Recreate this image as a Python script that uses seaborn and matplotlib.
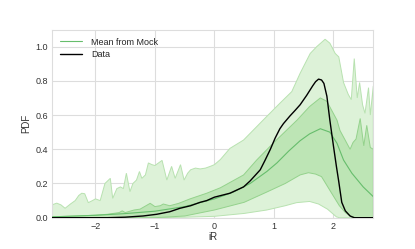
import numpy as np
import matplotlib
matplotlib.use("Agg")
import matplotlib.pyplot as plt
import seaborn as sns

# outer (light) band of the mocks
x_outer_up = [-2.73, -2.65, -2.58, -2.51, -2.42, -2.34, -2.28, -2.23, -2.18, -2.12,
              -2.05, -2.0, -1.92, -1.84, -1.75, -1.71, -1.64, -1.58, -1.53, -1.48,
              -1.42, -1.37, -1.31, -1.26, -1.22, -1.16, -1.11, -1.05, -1.0, -0.94,
              -0.88, -0.80, -0.72, -0.66, -0.57, -0.51, -0.45, -0.40, -0.32, -0.24,
              -0.15, -0.07, 0.0, 0.10, 0.26, 0.49, 0.82, 1.10, 1.30, 1.44,
              1.61, 1.72, 1.86, 1.94, 2.03, 2.09, 2.17, 2.25, 2.30, 2.35,
              2.40, 2.44, 2.49, 2.53, 2.59, 2.62, 2.67]
y_outer_up = [0.075, 0.085, 0.075, 0.055, 0.08, 0.10, 0.13, 0.143, 0.14, 0.088,
              0.10, 0.11, 0.10, 0.20, 0.23, 0.113, 0.17, 0.18, 0.17, 0.26,
              0.152, 0.20, 0.22, 0.27, 0.23, 0.25, 0.32, 0.31, 0.305, 0.32,
              0.335, 0.22, 0.30, 0.23, 0.31, 0.22, 0.26, 0.28, 0.29, 0.285,
              0.29, 0.30, 0.31, 0.34, 0.405, 0.454, 0.571, 0.669, 0.737, 0.844,
              0.96, 1.0, 1.043, 1.02, 0.96, 0.94, 0.79, 0.72, 0.69, 0.93,
              0.70, 0.79, 0.66, 0.61, 0.76, 0.60, 0.77]
x_outer_lo = [-2.73, -1.0, -0.5, 0.0, 0.5, 0.88, 1.19, 1.38, 1.6, 1.75, 1.9, 2.05, 2.1, 2.67]
y_outer_lo = [0.0, 0.0, 0.003, 0.008, 0.025, 0.045, 0.07, 0.088, 0.095, 0.08, 0.05, 0.005, 0.0, 0.0]

# inner (medium) band of the mocks
x_inner_up = [-2.73, -2.3, -2.0, -1.8, -1.6, -1.55, -1.5, -1.35, -1.25, -1.15,
              -1.08, -1.0, -0.91, -0.86, -0.75, -0.6, -0.41, -0.13, 0.1, 0.49,
              0.71, 1.0, 1.39, 1.6, 1.78, 1.89, 2.06, 2.11, 2.28, 2.33,
              2.38, 2.45, 2.51, 2.56, 2.62, 2.67]
y_inner_up = [0.005, 0.01, 0.015, 0.02, 0.03, 0.04, 0.03, 0.045, 0.05, 0.07,
              0.084, 0.065, 0.07, 0.08, 0.07, 0.084, 0.11, 0.143, 0.175, 0.25,
              0.337, 0.44, 0.571, 0.65, 0.70, 0.68, 0.57, 0.51, 0.40, 0.44,
              0.46, 0.58, 0.42, 0.54, 0.41, 0.40]
x_inner_lo = [-2.73, -1.0, -0.5, 0.0, 0.5, 0.88, 1.19, 1.44, 1.58, 1.7, 1.8, 1.97, 2.1, 2.2, 2.3, 2.4, 2.67]
y_inner_lo = [0.0, 0.0, 0.01, 0.045, 0.09, 0.15, 0.20, 0.25, 0.263, 0.255, 0.24, 0.143, 0.07, 0.03, 0.005, 0.0, 0.0]

# mean of mocks
x_mean = [-2.73, -2.0, -1.5, -1.0, -0.5, 0.0, 0.32, 0.6, 0.88, 1.05, 1.25, 1.44,
          1.6, 1.78, 1.94, 2.06, 2.17, 2.31, 2.5, 2.67]
y_mean = [0.005, 0.014, 0.024, 0.038, 0.065, 0.11, 0.15, 0.20, 0.27, 0.32, 0.39, 0.45,
          0.49, 0.52, 0.50, 0.435, 0.337, 0.26, 0.18, 0.123]

# data
x_data = [-2.73, -1.8, -1.5, -1.2, -0.97, -0.75, -0.58, -0.4, -0.24, -0.13, 0.0,
          0.26, 0.49, 0.6, 0.77, 0.85, 0.94, 1.02, 1.1, 1.16, 1.27, 1.35, 1.44,
          1.55, 1.65, 1.7, 1.75, 1.8, 1.84, 1.89, 1.94, 2.0, 2.05, 2.09, 2.14,
          2.2, 2.28, 2.35, 2.67]
y_data = [0.0, 0.0, 0.003, 0.01, 0.02, 0.035, 0.055, 0.07, 0.09, 0.10, 0.12,
          0.143, 0.18, 0.215, 0.28, 0.335, 0.40, 0.465, 0.52, 0.55, 0.595, 0.625, 0.66,
          0.715, 0.77, 0.795, 0.81, 0.805, 0.785, 0.71, 0.57, 0.42, 0.30, 0.21, 0.09,
          0.04, 0.01, 0.0, 0.0]

sns.set_style("whitegrid")
plt.rcParams['font.family'] = ['Liberation Sans', 'DejaVu Sans']

fig = plt.figure(figsize=(4.15, 2.49), dpi=100)
ax = fig.add_axes([0.1253, 0.1257, 0.7742, 0.7558])

ax.fill(np.r_[x_outer_up, x_outer_lo[::-1]], np.r_[y_outer_up, y_outer_lo[::-1]],
        facecolor='#ddf2d8', edgecolor='#b8e2b0', linewidth=0.7, zorder=1)
ax.fill(np.r_[x_inner_up, x_inner_lo[::-1]], np.r_[y_inner_up, y_inner_lo[::-1]],
        facecolor='#bde5b5', edgecolor='#94d28c', linewidth=0.7, zorder=2)

sns.lineplot(x=x_mean, y=y_mean, color='#66bd6c', linewidth=0.8, ax=ax,
             label='Mean from Mock', zorder=3)
sns.lineplot(x=x_data, y=y_data, color='black', linewidth=1.0, ax=ax,
             label='Data', zorder=4)

ax.set_xlim(-2.73, 2.67)
ax.set_ylim(0, 1.1)
ax.set_xticks([-2, -1, 0, 1, 2])
ax.set_yticks([0.0, 0.2, 0.4, 0.6, 0.8, 1.0])
ax.set_xticklabels(['\u22122', '\u22121', '0', '1', '2'])
ax.tick_params(labelsize=6.5, length=0, pad=3, colors='#333333')
ax.set_xlabel('iR', fontsize=7, labelpad=1, color='#333333')
ax.set_ylabel('PDF', fontsize=7, labelpad=3, color='#333333')
ax.grid(True, color='#dddddd', linewidth=0.8)
for s in ax.spines.values():
    s.set_color('#dddddd')
    s.set_linewidth(0.8)

ax.legend(loc='upper left', frameon=False, fontsize=6.5, handlelength=2.4,
          handletextpad=1.0, borderaxespad=0.5, labelspacing=0.4)

fig.savefig('out.png', dpi=100)
